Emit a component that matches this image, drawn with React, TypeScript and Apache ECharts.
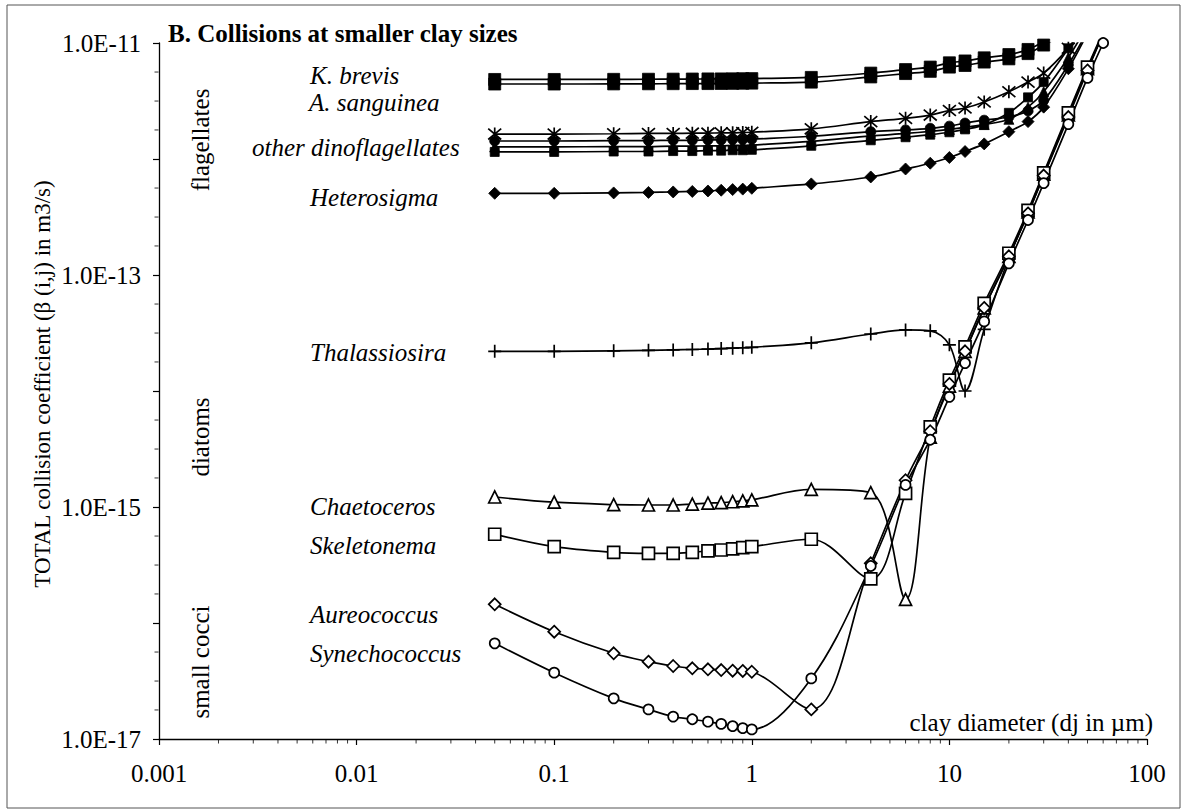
import React, { useEffect, useRef } from 'react';
import * as echarts from 'echarts';

// Clay diameter (µm) at which each collision coefficient was computed
const clayDiameter = [0.05, 0.1, 0.2, 0.3, 0.4, 0.5, 0.6, 0.7, 0.8, 0.9, 1, 2, 4, 6, 8, 10, 12, 15, 20, 25, 30, 40, 50, 60];

// Total collision coefficient beta(i,j) in m3/s, one array per organism
const kBrevisA = [4.85e-12, 4.85e-12, 4.86e-12, 4.87e-12, 4.88e-12, 4.89e-12, 4.9e-12, 4.9e-12, 4.91e-12, 4.92e-12, 4.93e-12, 5.05e-12, 5.5e-12, 5.9e-12, 6.2e-12, 6.75e-12, 7.0e-12, 7.45e-12, 7.95e-12, 8.8e-12, 1.03e-11, 1.35e-11, 1.8e-11, 2.3e-11];
const kBrevisB = [4.43e-12, 4.43e-12, 4.44e-12, 4.45e-12, 4.46e-12, 4.47e-12, 4.47e-12, 4.48e-12, 4.49e-12, 4.5e-12, 4.51e-12, 4.6e-12, 5.1e-12, 5.45e-12, 5.7e-12, 6.2e-12, 6.4e-12, 6.85e-12, 7.3e-12, 8.1e-12, 9.6e-12, 1.25e-11, 1.7e-11, 2.2e-11];
const aSanguinea = [1.64e-12, 1.64e-12, 1.65e-12, 1.66e-12, 1.66e-12, 1.67e-12, 1.67e-12, 1.68e-12, 1.68e-12, 1.69e-12, 1.7e-12, 1.82e-12, 2.1e-12, 2.24e-12, 2.39e-12, 2.62e-12, 2.75e-12, 3.1e-12, 3.8e-12, 4.6e-12, 5.5e-12, 9.0e-12, 1.45e-11, 2.2e-11];
const dinoCircle = [1.43e-12, 1.43e-12, 1.44e-12, 1.44e-12, 1.45e-12, 1.45e-12, 1.46e-12, 1.46e-12, 1.47e-12, 1.47e-12, 1.48e-12, 1.57e-12, 1.72e-12, 1.78e-12, 1.84e-12, 1.92e-12, 2.04e-12, 2.16e-12, 2.3e-12, 2.6e-12, 3.2e-12, 6.5e-12, 1.25e-11, 2.0e-11];
const dinoTriangle = [1.27e-12, 1.27e-12, 1.28e-12, 1.28e-12, 1.29e-12, 1.29e-12, 1.3e-12, 1.3e-12, 1.31e-12, 1.31e-12, 1.32e-12, 1.42e-12, 1.58e-12, 1.66e-12, 1.73e-12, 1.8e-12, 1.88e-12, 1.98e-12, 2.2e-12, 2.8e-12, 3.8e-12, 7.5e-12, 1.4e-11, 2.2e-11];
const dinoSquare = [1.15e-12, 1.15e-12, 1.16e-12, 1.16e-12, 1.17e-12, 1.17e-12, 1.18e-12, 1.18e-12, 1.19e-12, 1.19e-12, 1.2e-12, 1.3e-12, 1.45e-12, 1.54e-12, 1.62e-12, 1.7e-12, 1.8e-12, 1.97e-12, 2.5e-12, 3.4e-12, 4.6e-12, 9.0e-12, 1.6e-11, 2.5e-11];
const heterosigma = [5.06e-13, 5.06e-13, 5.1e-13, 5.15e-13, 5.2e-13, 5.25e-13, 5.3e-13, 5.38e-13, 5.45e-13, 5.5e-13, 5.59e-13, 6.1e-13, 7.0e-13, 8.2e-13, 9.2e-13, 1.03e-12, 1.16e-12, 1.35e-12, 1.72e-12, 2.1e-12, 2.8e-12, 6.0e-12, 1.2e-11, 2.0e-11];
const thalassiosira = [2.2e-14, 2.2e-14, 2.22e-14, 2.24e-14, 2.26e-14, 2.28e-14, 2.3e-14, 2.32e-14, 2.34e-14, 2.36e-14, 2.38e-14, 2.6e-14, 3.1e-14, 3.36e-14, 3.3e-14, 2.5e-14, 1.0e-14, 3.4e-14, 1.4e-13, 3.4e-13, 7.2e-13, 2.4e-12, 6.0e-12, 1.2e-11];
const chaetoceros = [1.22e-15, 1.1e-15, 1.05e-15, 1.04e-15, 1.04e-15, 1.06e-15, 1.08e-15, 1.09e-15, 1.11e-15, 1.13e-15, 1.15e-15, 1.42e-15, 1.33e-15, 1.6e-16, 4.0e-15, 1.1e-14, 2.2e-14, 5.2e-14, 1.45e-13, 3.5e-13, 7.4e-13, 2.4e-12, 6.0e-12, 1.2e-11];
const skeletonema = [5.82e-16, 4.55e-16, 4.07e-16, 3.99e-16, 3.99e-16, 4.07e-16, 4.18e-16, 4.26e-16, 4.35e-16, 4.46e-16, 4.55e-16, 5.27e-16, 2.4e-16, 1.31e-15, 4.9e-15, 1.24e-14, 2.4e-14, 5.7e-14, 1.54e-13, 3.6e-13, 7.6e-13, 2.5e-12, 6.2e-12, 1.25e-11];
const aureococcus = [1.45e-16, 8.41e-17, 5.48e-17, 4.64e-17, 4.26e-17, 4.07e-17, 3.99e-17, 3.93e-17, 3.88e-17, 3.86e-17, 3.8e-17, 1.8e-17, 3.27e-16, 1.7e-15, 4.5e-15, 1.15e-14, 2.2e-14, 5.2e-14, 1.45e-13, 3.4e-13, 7.2e-13, 2.3e-12, 5.8e-12, 1.2e-11];
const synechococcus = [6.68e-17, 3.73e-17, 2.24e-17, 1.8e-17, 1.56e-17, 1.48e-17, 1.41e-17, 1.35e-17, 1.29e-17, 1.24e-17, 1.21e-17, 3.33e-17, 3.1e-16, 1.55e-15, 3.8e-15, 8.9e-15, 1.74e-14, 3.98e-14, 1.26e-13, 2.98e-13, 6.2e-13, 2.0e-12, 5.0e-12, 1.0e-11];

// Axis ranges
const xRange = [0.001, 100];
const yRange = [1e-17, 1e-11];

// Minor tick values on the two log axes
const xMinorTicks = [
  0.002, 0.003, 0.004, 0.005, 0.006, 0.007, 0.008, 0.009,
  0.02, 0.03, 0.04, 0.05, 0.06, 0.07, 0.08, 0.09,
  0.2, 0.3, 0.4, 0.5, 0.6, 0.7, 0.8, 0.9,
  2, 3, 4, 5, 6, 7, 8, 9,
  20, 30, 40, 50, 60, 70, 80, 90,
];
const yMinorTicks = [
  1.78e-17, 3.16e-17, 5.62e-17,
  1.78e-16, 3.16e-16, 5.62e-16,
  1.78e-15, 3.16e-15, 5.62e-15,
  1.78e-14, 3.16e-14, 5.62e-14,
  1.78e-13, 3.16e-13, 5.62e-13,
  1.78e-12, 3.16e-12, 5.62e-12,
];

// Text labels beside the curves: [text, left x, centre y]
const speciesLabels: [string, number, number][] = [
  ['K. brevis', 310, 75],
  ['A. sanguinea', 309, 102],
  ['other dinoflagellates', 252, 147],
  ['Heterosigma', 310, 197],
  ['Thalassiosira', 310, 352],
  ['Chaetoceros', 310, 506],
  ['Skeletonema', 310, 545],
  ['Aureococcus', 310, 614],
  ['Synechococcus', 310, 653],
];
const groupLabels: [string, number, number][] = [
  ['flagellates', 200, 140],
  ['diatoms', 200, 437],
  ['small cocci', 200, 662],
];

const SERIF = "'Liberation Serif', 'Times New Roman', serif";

const PLUS = 'path://M0,-6L0,6M-6,0L6,0';
const STAR = 'path://M0,-6L0,6M-5,-5L5,5M-5,5L5,-5';

type Def = { name: string; values: number[]; symbol: string; size: number; hollow?: boolean; stroke?: boolean };

const defs: Def[] = [
  { name: 'K. brevis', values: kBrevisA, symbol: 'rect', size: 12 },
  { name: 'K. brevis 2', values: kBrevisB, symbol: 'rect', size: 12 },
  { name: 'A. sanguinea', values: aSanguinea, symbol: STAR, size: 13, stroke: true },
  { name: 'dinoflagellate 1', values: dinoCircle, symbol: 'circle', size: 10 },
  { name: 'dinoflagellate 2', values: dinoTriangle, symbol: 'triangle', size: 10 },
  { name: 'dinoflagellate 3', values: dinoSquare, symbol: 'rect', size: 9 },
  { name: 'Heterosigma', values: heterosigma, symbol: 'diamond', size: 12 },
  { name: 'Thalassiosira', values: thalassiosira, symbol: PLUS, size: 13, stroke: true },
  { name: 'Chaetoceros', values: chaetoceros, symbol: 'triangle', size: 12, hollow: true },
  { name: 'Skeletonema', values: skeletonema, symbol: 'rect', size: 12, hollow: true },
  { name: 'Aureococcus', values: aureococcus, symbol: 'diamond', size: 12, hollow: true },
  { name: 'Synechococcus', values: synechococcus, symbol: 'circle', size: 10, hollow: true },
];

const exponent = (v: number) => Math.round(Math.log10(v));

const textStyle = (text: string, size: number, align: string, extra: Record<string, unknown> = {}) => ({
  text,
  fontFamily: SERIF,
  fontSize: size,
  fill: '#000',
  textAlign: align,
  textVerticalAlign: 'middle',
  align,
  verticalAlign: 'middle',
  ...extra,
});

export default function App() {
  const ref = useRef<HTMLDivElement>(null);

  useEffect(() => {
    const chart = echarts.init(ref.current!, null, { renderer: 'svg' });

    const curves = defs.map((d) => ({
      type: 'line',
      name: d.name,
      data: clayDiameter.map((x, i) => [x, d.values[i]]),
      smooth: 0.35,
      symbol: d.symbol,
      symbolSize: d.size,
      showSymbol: true,
      clip: true,
      silent: true,
      lineStyle: { color: '#000', width: 1.7 },
      itemStyle: d.hollow
        ? { color: '#fff', borderColor: '#000', borderWidth: 1.7 }
        : d.stroke
        ? { color: '#000', borderColor: '#000', borderWidth: 1.7 }
        : { color: '#000', borderColor: '#000', borderWidth: 0.8 },
      emphasis: { disabled: true },
    }));

    // Short minor tick marks sitting just outside each axis line
    const minorTickSeries = [
      {
        type: 'scatter',
        data: xMinorTicks.map((v) => [v, yRange[0]]),
        symbol: 'rect',
        symbolSize: [1, 4],
        symbolOffset: [0, 2.5],
        clip: false,
        silent: true,
        itemStyle: { color: '#000' },
        emphasis: { disabled: true },
        z: 1,
      },
      {
        type: 'scatter',
        data: yMinorTicks.map((v) => [xRange[0], v]),
        symbol: 'rect',
        symbolSize: [4, 1],
        symbolOffset: [-2.5, 0],
        clip: false,
        silent: true,
        itemStyle: { color: '#000' },
        emphasis: { disabled: true },
        z: 1,
      },
    ];

    const textEls: any[] = [
      {
        type: 'text',
        x: 168,
        y: 33,
        style: textStyle('B. Collisions at smaller clay sizes', 25, 'left', { fontWeight: 'bold' }),
      },
      {
        type: 'text',
        x: 42,
        y: 384,
        rotation: Math.PI / 2,
        style: textStyle('TOTAL collision coefficient (β (i,j) in m3/s)', 23, 'center'),
      },
      {
        type: 'text',
        x: 1153,
        y: 722,
        style: textStyle('clay diameter (dj in µm)', 25, 'right'),
      },
      ...speciesLabels.map(([t, x, y]) => ({
        type: 'text',
        x,
        y,
        style: textStyle(t, 25, 'left', { fontStyle: 'italic' }),
      })),
      ...groupLabels.map(([t, x, y]) => ({
        type: 'text',
        x,
        y,
        rotation: Math.PI / 2,
        style: textStyle(t, 25, 'center'),
      })),
      {
        type: 'rect',
        shape: { x: 7, y: 5, width: 1173, height: 803 },
        style: { fill: 'none', stroke: '#555', lineWidth: 1 },
        silent: true,
      },
    ];

    chart.setOption({
      animation: false,
      backgroundColor: '#fff',
      grid: { left: 159, top: 43, width: 988, height: 696, containLabel: false },
      xAxis: {
        type: 'log',
        logBase: 10,
        min: xRange[0],
        max: xRange[1],
        splitNumber: 5,
        axisLine: { show: true, onZero: false, lineStyle: { color: '#000', width: 1.3 } },
        axisTick: { show: true, inside: false, length: 6, lineStyle: { color: '#000', width: 1.2 } },
        splitLine: { show: false },
        axisLabel: {
          color: '#000',
          fontFamily: SERIF,
          fontSize: 25,
          margin: 22,
          formatter: (v: number) => {
            const e = exponent(v);
            return e >= 0 ? String(Math.pow(10, e)) : Math.pow(10, e).toFixed(-e);
          },
        },
      },
      yAxis: {
        type: 'log',
        logBase: 10,
        min: yRange[0],
        max: yRange[1],
        splitNumber: 6,
        axisLine: { show: true, onZero: false, lineStyle: { color: '#000', width: 1.3 } },
        axisTick: { show: true, inside: false, length: 6, lineStyle: { color: '#000', width: 1.2 } },
        splitLine: { show: false },
        axisLabel: {
          color: '#000',
          fontFamily: SERIF,
          fontSize: 25,
          margin: 18,
          formatter: (v: number) => {
            const e = exponent(v);
            return (e + 17) % 2 === 0 ? '1.0E' + e : '';
          },
        },
      },
      series: [...minorTickSeries, ...curves],
      graphic: { elements: textEls },
    });

    return () => chart.dispose();
  }, []);

  return (
    <div
      ref={ref}
      style={{ position: 'absolute', left: 0, top: 0, width: 1182, height: 811, background: '#fff' }}
    />
  );
}
